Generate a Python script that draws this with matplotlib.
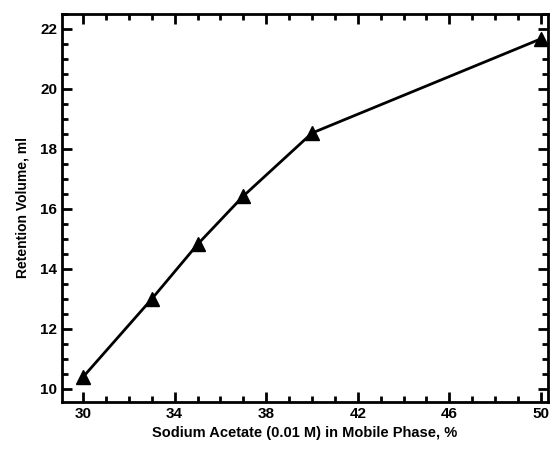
import matplotlib.pyplot as plt
from matplotlib.ticker import MultipleLocator

acetate_pct = [30, 33, 35, 37, 40, 50]
retention_ml = [10.4, 13.0, 14.82, 16.43, 18.53, 21.67]
x_ticks = [30, 34, 38, 42, 46, 50]

plt.rcParams['font.family'] = ['Liberation Sans', 'DejaVu Sans']
plt.rcParams['font.weight'] = 'bold'

fig = plt.figure(figsize=(5.59, 4.49), dpi=100)
ax = fig.add_axes([0.111, 0.105, 0.869, 0.864])
ax.plot(acetate_pct, retention_ml, color='black', linewidth=2,
        marker='^', markersize=10)

ax.set_xlim(29.08, 50.3)
ax.set_ylim(9.57, 22.5)
ax.set_xticks(x_ticks)
ax.xaxis.set_minor_locator(MultipleLocator(1))
ax.yaxis.set_major_locator(MultipleLocator(2))
ax.yaxis.set_minor_locator(MultipleLocator(0.5))
ax.tick_params(which='both', direction='in', top=True, right=True,
               width=2, labelsize=11)
ax.tick_params(which='major', length=7)
ax.tick_params(which='minor', length=4)
for s in ax.spines.values():
    s.set_linewidth(2)

ax.set_xlabel('Sodium Acetate (0.01 M) in Mobile Phase, %', fontsize=10.5,
              fontweight='bold')
ax.set_ylabel('Retention Volume, ml', fontsize=10, fontweight='bold',
              labelpad=8)

fig.savefig('out.png', dpi=100)
